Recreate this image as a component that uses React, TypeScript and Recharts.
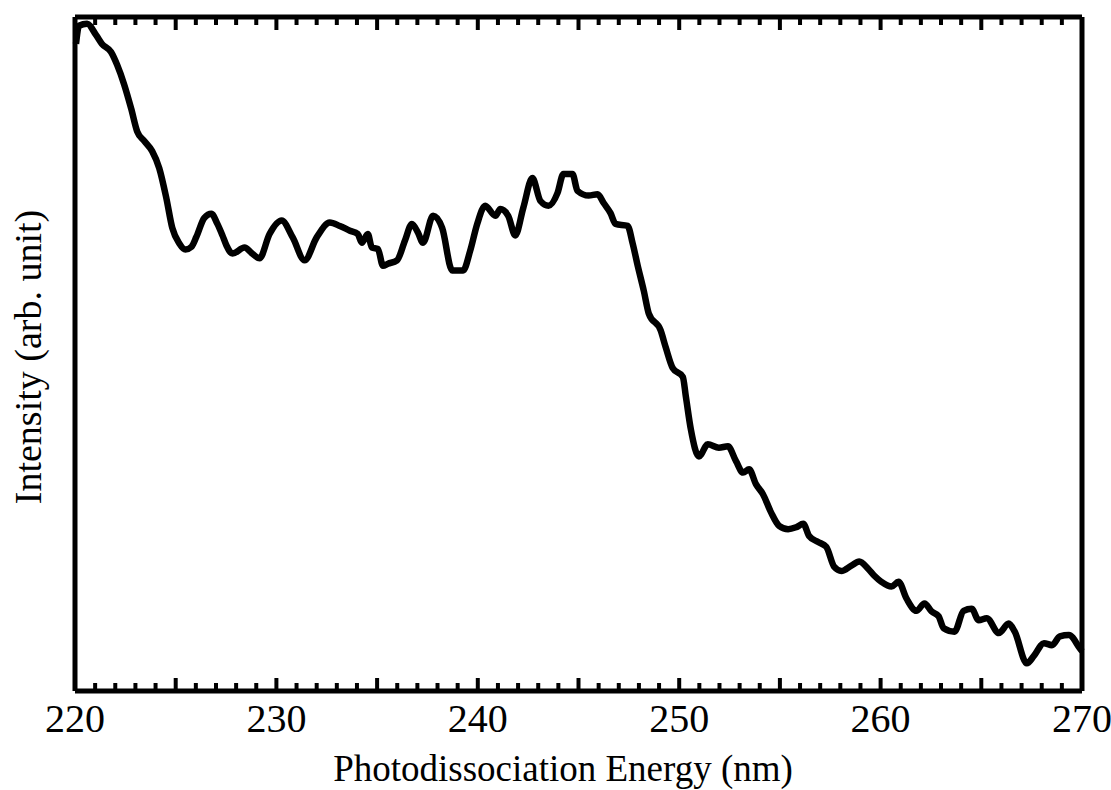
import { Line, LineChart, XAxis, YAxis } from "recharts";

// wavelength (nm) and intensity (arb. unit, 0-100)
const NM = [
  220.05, 220.2, 220.6, 221.05, 221.34, 221.79, 222.09, 222.44, 222.79, 223.09,
  223.44, 223.83, 224.18, 224.53, 224.83, 225.18, 225.48, 225.78, 226.03, 226.42,
  226.77, 227.07, 227.32, 227.52, 227.82, 228.42, 228.76, 229.16, 229.66, 230.26,
  230.81, 231.4, 232.0, 232.65, 233.15, 233.65, 234.04, 234.24, 234.54, 234.74,
  235.04, 235.29, 235.54, 235.99, 236.38, 236.73, 237.03, 237.28, 237.78, 238.23,
  238.73, 239.27, 239.62, 239.97, 240.37, 240.87, 241.12, 241.51, 241.86, 242.26,
  242.71, 243.11, 243.51, 243.96, 244.25, 244.7, 244.95, 245.5, 245.95, 246.25,
  246.59, 246.84, 247.44, 247.69, 247.94, 248.24, 248.49, 249.08, 249.33, 249.68,
  250.18, 250.33, 250.58, 250.98, 251.42, 251.97, 252.42, 252.82, 253.17, 253.47,
  253.81, 254.16, 254.56, 254.96, 255.41, 255.81, 256.16, 256.45, 256.9, 257.3,
  257.7, 258.05, 258.55, 258.94, 259.39, 259.69, 260.04, 260.54, 260.89, 261.29,
  261.78, 262.18, 262.53, 262.88, 263.13, 263.67, 264.12, 264.52, 264.87, 265.27,
  265.87, 266.36, 266.66, 267.26, 267.61, 268.11, 268.51, 268.9, 269.35, 269.9,
  270.0,
];

const INTENSITY = [
  96.0, 98.7, 99.0, 97.3, 96.0, 94.8, 92.9, 90.0, 86.4, 83.0,
  81.6, 80.1, 77.6, 73.2, 68.7, 66.4, 65.5, 65.9, 67.4, 70.2,
  70.8, 69.3, 67.6, 66.1, 64.9, 65.8, 65.0, 64.2, 67.8, 69.8,
  67.3, 63.9, 67.3, 69.5, 69.0, 68.3, 67.8, 66.5, 67.8, 65.8,
  65.6, 63.1, 63.4, 63.9, 66.8, 69.3, 68.0, 66.5, 70.5, 68.7,
  62.4, 62.4, 65.3, 69.3, 72.0, 70.5, 71.5, 70.5, 67.6, 71.7,
  76.1, 72.7, 72.0, 73.9, 76.7, 76.7, 74.2, 73.5, 73.7, 72.4,
  70.9, 69.3, 69.0, 66.4, 63.1, 59.4, 56.0, 53.5, 51.0, 47.9,
  46.6, 43.7, 38.8, 34.8, 36.6, 36.1, 36.3, 34.1, 32.4, 32.9,
  30.7, 29.2, 26.5, 24.5, 24.0, 24.3, 24.8, 23.0, 22.1, 21.4,
  18.4, 17.8, 18.6, 19.2, 18.1, 17.1, 16.2, 15.5, 16.2, 13.7,
  11.9, 13.0, 11.8, 11.1, 9.3, 8.8, 11.9, 12.2, 10.5, 10.8,
  8.6, 10.0, 8.8, 4.1, 5.2, 7.1, 6.8, 8.1, 8.3, 6.3,
  5.9,
];

const X_TICKS = [
  220, 221, 222, 223, 224, 225, 226, 227, 228, 229,
  230, 231, 232, 233, 234, 235, 236, 237, 238, 239,
  240, 241, 242, 243, 244, 245, 246, 247, 248, 249,
  250, 251, 252, 253, 254, 255, 256, 257, 258, 259,
  260, 261, 262, 263, 264, 265, 266, 267, 268, 269, 270,
];
const X_LABELS = [220, 230, 240, 250, 260, 270];

const data = NM.map((nm, i) => ({ nm, v: INTENSITY[i] }));

const FONT = "'Liberation Serif', 'Times New Roman', serif";
const INK = "#000";

// every 5 nm gets a longer tick
function tickLen(v: number) {
  return v % 5 === 0 ? 13 : 8;
}

const bottomTick = (props: any) => {
  const { x, y, payload } = props;
  const v = payload.value as number;
  return (
    <g>
      <line x1={x} x2={x} y1={y} y2={y - tickLen(v)} stroke={INK} strokeWidth={4} />
      {X_LABELS.includes(v) && (
        <text x={x} y={y + 41} textAnchor="middle" fontFamily={FONT} fontSize={40} fill={INK}>
          {String(v)}
        </text>
      )}
    </g>
  );
};

const topTick = (props: any) => {
  const { x, y, payload } = props;
  const v = payload.value as number;
  return <line x1={x} x2={x} y1={y} y2={y + tickLen(v)} stroke={INK} strokeWidth={4} />;
};

export default function App() {
  return (
    <div style={{ position: "relative", width: 1111, height: 790, background: "#fff", fontFamily: FONT }}>
      <style>{"body{margin:0}"}</style>
      <LineChart width={1111} height={790} data={data} margin={{ top: 16, right: 28, bottom: 98, left: 74 }}>
        <XAxis
          xAxisId="b"
          dataKey="nm"
          type="number"
          domain={[220, 270]}
          ticks={X_TICKS}
          interval={0}
          height={1}
          tickSize={0}
          tickMargin={0}
          tickLine={false}
          axisLine={{ stroke: INK, strokeWidth: 5 }}
          tick={bottomTick}
        />
        <XAxis
          xAxisId="t"
          orientation="top"
          dataKey="nm"
          type="number"
          domain={[220, 270]}
          ticks={X_TICKS}
          interval={0}
          height={1}
          tickSize={0}
          tickMargin={0}
          tickLine={false}
          axisLine={{ stroke: INK, strokeWidth: 5 }}
          tick={topTick}
        />
        <YAxis
          yAxisId="l"
          type="number"
          domain={[0, 100]}
          width={1}
          tick={false}
          tickLine={false}
          axisLine={{ stroke: INK, strokeWidth: 5 }}
        />
        <YAxis
          yAxisId="r"
          orientation="right"
          type="number"
          domain={[0, 100]}
          width={1}
          tick={false}
          tickLine={false}
          axisLine={{ stroke: INK, strokeWidth: 5 }}
        />
        <Line
          isAnimationActive={false}
          xAxisId="b"
          yAxisId="l"
          type="monotone"
          dataKey="v"
          stroke={INK}
          strokeWidth={6.5}
          strokeLinejoin="round"
          dot={false}
          activeDot={false}
        />
      </LineChart>
      <div
        style={{
          position: "absolute",
          left: 563,
          top: 750,
          transform: "translateX(-50%)",
          fontSize: 37,
          lineHeight: "37px",
          whiteSpace: "nowrap",
          color: INK,
        }}
      >
        Photodissociation Energy (nm)
      </div>
      <div
        style={{
          position: "absolute",
          left: 28,
          top: 357,
          transform: "translate(-50%, -50%) rotate(-90deg)",
          fontSize: 38,
          lineHeight: "38px",
          whiteSpace: "nowrap",
          color: INK,
        }}
      >
        Intensity (arb. unit)
      </div>
    </div>
  );
}
